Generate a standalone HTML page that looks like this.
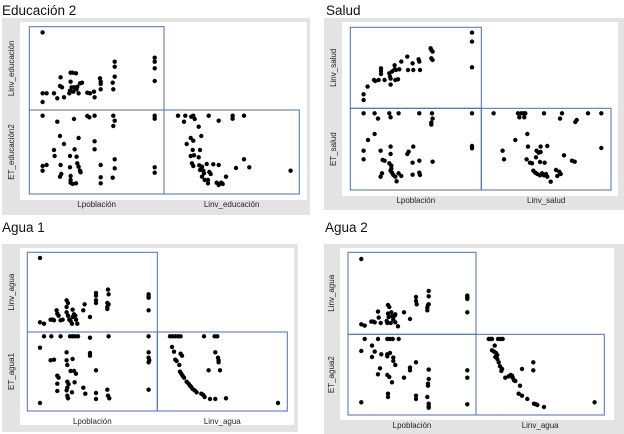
<!DOCTYPE html>
<html><head><meta charset="utf-8">
<style>
html,body{margin:0;padding:0;background:#fff;}
body{width:624px;height:434px;overflow:hidden;position:relative;font-family:"Liberation Sans",sans-serif;}
svg{position:absolute;left:0;top:0;}
</style></head>
<body>
<svg id="chart" width="624" height="434" viewBox="0 0 624 434" xmlns="http://www.w3.org/2000/svg"></svg>
<script>
// ---- Data (units relative to each matrix cell's axis range) ----
// Educación 2
const edu_pob_inv_x=[40,40,52,40,74,84,94,92,98,104,120,124,130,140,124,127,134,122,132,142,148,152,158,144,174,182,194,196,212,214,214,214,250,252,256,256,256,376,376,376,376];
const edu_pob_inv_y=[233,50,50,24,50,35,98,72,68,38,50,112,112,110,85,68,68,58,55,62,50,80,82,70,52,50,55,38,95,85,78,62,82,62,145,130,100,157,145,125,87];
const edu_pob_et_x=[40,84,134,174,180,196,252,256,252,376,376,92,148,104,196,136,74,76,122,142,196,40,52,40,94,122,144,148,152,154,214,256,256,376,376,96,92,124,124,124,130,140,214,214,250];
const edu_pob_et_y=[235,217,225,234,230,235,235,220,204,235,226,174,168,150,158,134,132,114,114,112,134,84,87,70,87,80,92,82,70,65,87,104,77,80,64,60,52,54,42,34,30,32,50,32,49];
const edu_inv_et_x=[42,64,60,82,88,92,104,134,164,206,206,240,112,80,88,68,108,86,90,80,104,84,88,106,114,128,148,164,216,240,256,380,108,118,120,136,140,114,122,132,132,158,164,172,176,186];
const edu_inv_et_y=[235,235,217,232,235,225,202,235,220,235,226,235,174,168,160,150,132,132,116,114,110,92,84,86,82,90,89,87,78,104,80,70,72,70,62,66,60,52,42,42,32,34,27,34,30,52];
// Salud
const sal_pob_inv_x=[40,40,52,71,75,85,92,92,92,103,117,119,121,121,125,133,133,137,135,143,147,153,171,173,187,189,205,207,209,241,243,247,243,247,365,365,365];
const sal_pob_inv_y=[42,25,65,85,82,85,120,112,103,85,105,95,89,71,110,117,129,115,85,87,117,140,155,115,135,115,147,140,115,180,175,170,150,145,227,200,123];
const sal_pob_et_x=[40,73,83,117,121,145,207,245,247,243,243,365,73,53,40,40,91,97,103,121,121,117,123,123,121,125,129,135,139,145,153,91,95,171,175,189,187,207,207,209,187,247,365,365];
const sal_pob_et_y=[230,230,214,230,218,230,230,230,214,202,196,230,168,150,118,92,118,90,88,130,108,80,73,64,58,52,45,40,26,50,42,40,50,108,115,130,82,88,52,45,46,85,132,125];
const sal_inv_et_x=[37,110,120,127,132,114,129,188,236,242,282,286,320,360,102,138,140,64,68,166,172,178,178,198,136,146,152,164,176,190,156,162,168,176,182,188,194,198,208,224,228,234,238,248,272,280,360];
const sal_inv_et_y=[230,230,230,230,230,218,218,230,214,230,204,210,230,230,150,168,130,118,92,118,112,130,114,132,92,82,80,98,84,82,58,52,48,44,50,44,48,40,25,60,42,55,48,104,88,85,126];
// Agua 1
const ag1_pob_inv_x=[38,38,50,70,76,80,88,90,94,100,106,118,122,118,118,122,126,130,134,136,140,144,146,136,150,168,172,188,206,206,206,206,242,244,240,244,240,240,364,364,364,364];
const ag1_pob_inv_y=[222,29,25,37,37,35,65,55,49,35,37,95,87,75,59,49,37,33,25,45,53,49,37,67,25,65,83,45,117,109,95,87,127,113,87,83,75,69,113,107,103,65];
const ag1_pob_et_x=[50,72,100,128,136,144,152,188,244,364,38,70,80,118,118,120,136,188,188,130,140,146,90,94,206,364,364,366,364,90,120,124,120,118,142,90,134,168,174,120,122,206,206,240,242,246,364,38];
const ag1_pob_et_y=[224,224,224,224,224,224,224,220,224,224,190,152,154,176,152,138,156,174,166,120,120,112,106,100,122,176,160,152,146,82,88,80,70,62,86,60,56,70,52,46,38,54,36,64,46,38,64,24];
const ag1_inv_et_x=[38,46,54,62,70,140,172,180,44,50,70,74,54,58,66,68,72,76,80,174,182,184,184,154,188,88,94,98,102,106,112,118,132,138,142,158,174,206,362];
const ag1_inv_et_y=[224,224,224,224,224,224,224,224,192,178,172,166,154,150,138,118,112,106,100,176,160,152,146,122,122,88,82,76,72,66,62,56,52,48,42,36,36,38,24];
// Agua 2
const ag2_pob_inv_x=[40,40,50,70,76,80,90,92,98,116,120,124,120,122,118,128,130,132,136,140,142,142,150,168,186,204,204,206,242,242,240,242,238,238,358,358,358,358];
const ag2_pob_inv_y=[226,30,26,38,38,36,68,50,34,40,88,82,62,52,34,34,66,54,44,56,60,36,24,66,46,112,100,90,130,114,88,90,80,72,116,110,106,66];
const ag2_pob_et_x=[50,90,118,126,134,152,40,72,80,72,100,118,118,126,136,136,142,204,186,186,96,90,118,124,132,168,242,242,240,240,358,358,120,120,204,204,238,242,242,242,358,40];
const ag2_pob_et_y=[228,228,228,228,228,228,192,208,190,174,182,182,176,186,172,162,150,158,142,134,140,122,120,114,98,112,136,108,94,88,134,112,64,54,58,48,54,34,26,22,32,38];
const ag2_inv_et_x=[38,44,48,66,74,80,48,54,56,60,64,58,64,68,72,78,76,78,88,98,104,108,110,114,118,132,138,172,172,128,138,154,174,180,184,204,356];
const ag2_inv_et_y=[228,228,228,228,228,228,194,190,208,186,180,174,168,158,146,138,132,138,112,116,120,118,112,104,102,88,138,158,134,64,58,48,34,32,30,24,38];

const NS="http://www.w3.org/2000/svg";
const svg=document.getElementById('chart');
function mk(tag,attrs,parent){const e=document.createElementNS(NS,tag);for(const k in attrs)e.setAttribute(k,attrs[k]);(parent||svg).appendChild(e);return e;}
function scale(d0,d1,r0,r1){return v=>r0+(v-d0)/(d1-d0)*(r1-r0);}

const panels=[
 {key:'educacion',title:'Educación 2',tx:2,ty:15,gray:[2,18,308,197],white:[20,22,287,178],x0:29.3,xm:164,x1:299.3,y0:26.7,ym:110,y1:194,
  xd1:[404,406],yd:[250,252],inv:'Linv_educación',et:'ET_educación2',
  cells:[[edu_pob_inv_x,edu_pob_inv_y],[edu_pob_et_x,edu_pob_et_y],[edu_inv_et_x,edu_inv_et_y]]},
 {key:'salud',title:'Salud',tx:326,ty:15,gray:[324,18,300,192],white:[342,22,276,174],x0:350.3,xm:481.3,x1:611,y0:27.3,ym:108.3,y1:190,
  xd1:[393,389],yd:[243,245],inv:'Linv_salud',et:'ET_salud',
  cells:[[sal_pob_inv_x,sal_pob_inv_y],[sal_pob_et_x,sal_pob_et_y],[sal_inv_et_x,sal_inv_et_y]]},
 {key:'agua1',title:'Agua  1',tx:2,ty:232,gray:[2,244,296,188],white:[20,248,274,177],x0:27.3,xm:157.3,x1:287.3,y0:252.3,ym:332,y1:411,
  xd1:[390,390],yd:[239,237],inv:'Linv_agua',et:'ET_agua1',
  cells:[[ag1_pob_inv_x,ag1_pob_inv_y],[ag1_pob_et_x,ag1_pob_et_y],[ag1_inv_et_x,ag1_inv_et_y]]},
 {key:'agua2',title:'Agua  2',tx:325,ty:232,gray:[324,244,300,190],white:[340,248,274,172],x0:348,xm:476,x1:604.3,y0:252.3,ym:334.3,y1:415,
  xd1:[384,385],yd:[246,242],inv:'Linv_agua',et:'ET_agua2',
  cells:[[ag2_pob_inv_x,ag2_pob_inv_y],[ag2_pob_et_x,ag2_pob_et_y],[ag2_inv_et_x,ag2_inv_et_y]]}
];

panels.forEach(p=>{
  const g=mk('g',{});
  
  
  const t=mk('text',{x:p.tx,y:p.ty,'font-size':13.5,fill:'#111'},g);t.textContent=p.title;
  
  
  const gr=mk('rect',{x:p.gray[0],y:p.gray[1],width:p.gray[2],height:p.gray[3],fill:'#e3e3e3'},g);
  
  
  const wr=mk('rect',{x:p.white[0],y:p.white[1],width:p.white[2],height:p.white[3],fill:'#fff'},g);
  
  
  // cells: [xL,xR,yT,yB,xDomain,yDomain]
  const boxes=[
    [p.x0,p.xm,p.y0,p.ym,p.xd1[0],p.yd[0],'cell-poblacion-vs-inv'],
    [p.x0,p.xm,p.ym,p.y1,p.xd1[0],p.yd[1],'cell-poblacion-vs-et'],
    [p.xm,p.x1,p.ym,p.y1,p.xd1[1],p.yd[1],'cell-inv-vs-et']
  ];
  boxes.forEach((b,i)=>{
    const cg=mk('g',{},g);
    
    
    const r=mk('rect',{x:b[0],y:b[2],width:b[1]-b[0],height:b[3]-b[2],fill:'none',stroke:'#4a6fb5','stroke-width':1},cg);
    
    
    const sx=scale(0,b[4],b[0],b[1]);
    const sy=scale(0,b[5],b[3],b[2]);
    const xs=p.cells[i][0],ys=p.cells[i][1];
    for(let k=0;k<xs.length;k++){
      const c=mk('circle',{cx:sx(xs[k]).toFixed(1),cy:sy(ys[k]).toFixed(1),r:2.2,fill:'#000'},cg);
      
      
    }
  });
  const labY=p.y1+13;
  const l1=mk('text',{x:(p.x0+p.xm)/2,y:labY,'font-size':8,'text-anchor':'middle',fill:'#222'},g);l1.textContent='Lpoblación';
  
  
  const l2=mk('text',{x:(p.xm+p.x1)/2,y:labY,'font-size':8,'text-anchor':'middle',fill:'#222'},g);l2.textContent=p.inv;
  
  
  const lx=p.white[0]-6;
  const y1c=(p.y0+p.ym)/2,y2c=(p.ym+p.y1)/2;
  const l3=mk('text',{x:lx,y:y1c,'font-size':8,'text-anchor':'middle',fill:'#222',transform:`rotate(-90 ${lx} ${y1c})`},g);l3.textContent=p.inv;
  
  
  const l4=mk('text',{x:lx,y:y2c,'font-size':8,'text-anchor':'middle',fill:'#222',transform:`rotate(-90 ${lx} ${y2c})`},g);l4.textContent=p.et;
  
  
});
</script>
</body></html>
